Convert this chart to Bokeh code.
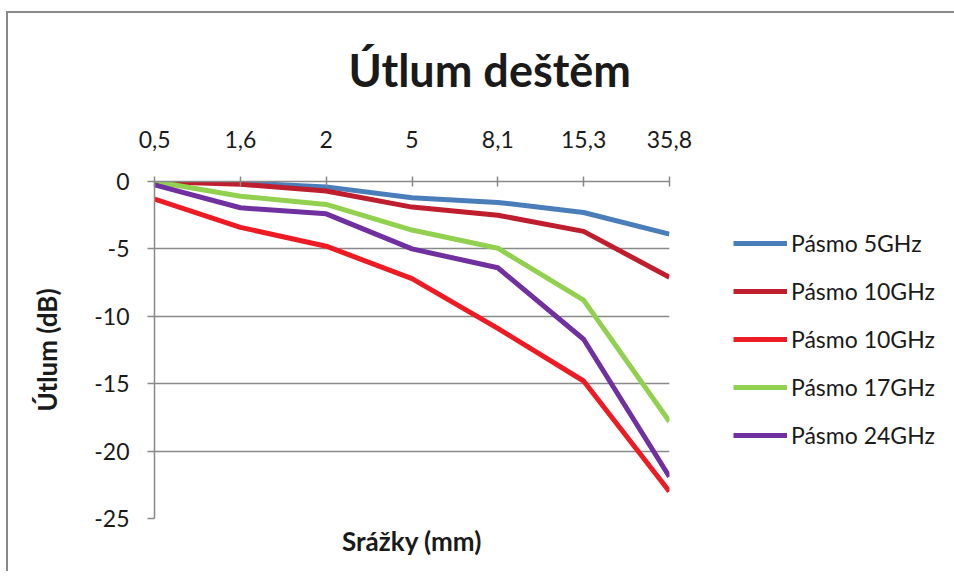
from bokeh.plotting import figure
from bokeh.models import FactorRange, Range1d, FixedTicker, Legend, LegendItem, Title
from bokeh.embed import file_html
from bokeh.resources import INLINE

# ---- data ----
categories = ["0,5", "1,6", "2", "5", "8,1", "15,3", "35,8"]
series_names = ["Pásmo 5GHz", "Pásmo 10GHz", "Pásmo 10GHz", "Pásmo 17GHz", "Pásmo 24GHz"]
band_5ghz = [0.0, -0.1, -0.4, -1.2, -1.55, -2.3, -3.9]
band_10ghz_a = [0.0, -0.2, -0.7, -1.9, -2.5, -3.7, -7.1]
band_10ghz_b = [-1.3, -3.4, -4.8, -7.2, -10.9, -14.8, -23.0]
band_17ghz = [0.0, -1.1, -1.7, -3.6, -4.95, -8.8, -17.8]
band_24ghz = [-0.25, -1.95, -2.4, -5.0, -6.4, -11.7, -21.9]
y_ticks = [-25, -20, -15, -10, -5, 0]
y_tick_labels = ["-25", "-20", "-15", "-10", "-5", "0"]
title_text = "Útlum deštěm"
x_label = "Srážky (mm)"
y_label = "Útlum (dB)"

colors = ["#4A7EBB", "#BE1E2D", "#ED1C24", "#92D050", "#7030A0"]
series = [band_5ghz, band_10ghz_a, band_10ghz_b, band_17ghz, band_24ghz]

FONT = "Lato"
GRAY = "#898989"
TXT = "#1a1a1a"

p = figure(
    x_range=FactorRange(factors=categories, range_padding=-0.499, range_padding_units="absolute"),
    y_range=Range1d(-25, 0),
    frame_width=515, frame_height=337,
    min_border_left=146, min_border_right=277, min_border_top=168, min_border_bottom=53,
    x_axis_location="above",
    output_backend="svg", toolbar_location=None,
    title=title_text,
)
p.styles = {"margin-left": "6px", "margin-top": "11px",
            "border-top": "2px solid #898989", "border-left": "2px solid #898989"}

p.outline_line_color = None
p.background_fill_color = "white"
p.border_fill_color = "white"

# title
p.title.align = "left"
p.title.offset = 194
p.title.standoff = 57
p.title.vertical_align = "top"
p.title.text_font = FONT
p.title.text_font_size = "45px"
p.title.text_font_style = "bold"
p.title.text_color = TXT

# x axis (top)
xa = p.xaxis[0]
xa.axis_line_color = GRAY
xa.axis_line_width = 1.5
xa.major_tick_line_color = GRAY
xa.major_tick_line_width = 1.5
xa.major_tick_in = 5
xa.major_tick_out = 5
xa.major_label_standoff = 29
xa.major_label_text_font = FONT
xa.major_label_text_font_size = "23px"
xa.major_label_text_color = TXT
xa.major_label_orientation = "horizontal"

# y axis
ya = p.yaxis[0]
ya.ticker = FixedTicker(ticks=y_ticks)
ya.major_label_overrides = {t: l for t, l in zip(y_ticks, y_tick_labels)}
ya.axis_line_color = GRAY
ya.axis_line_width = 1.5
ya.major_tick_line_color = GRAY
ya.major_tick_line_width = 1.5
ya.major_tick_in = 0
ya.major_tick_out = 7
ya.minor_tick_line_color = None
ya.major_label_standoff = 18
ya.major_label_text_font = FONT
ya.major_label_text_font_size = "23px"
ya.major_label_text_color = TXT
ya.axis_label = y_label
ya.axis_label_text_font = FONT
ya.axis_label_text_font_size = "26px"
ya.axis_label_text_font_style = "bold"
ya.axis_label_text_color = TXT
ya.axis_label_standoff = 28

p.xgrid.visible = False
p.ygrid.ticker = FixedTicker(ticks=y_ticks)
p.ygrid.grid_line_color = GRAY
p.ygrid.grid_line_width = 1.5

# x label below
p.add_layout(Title(text=x_label, align="center", text_font=FONT, text_font_size="26px",
                   text_font_style="bold", text_color=TXT, standoff=8), "below")

items = []
for name, vals, col in zip(series_names, series, colors):
    r = p.line(x=categories, y=vals, line_color=col, line_width=5, line_join="round")
    items.append(LegendItem(label=name, renderers=[r]))

legend = Legend(items=items, location=(64, 69), padding=0, margin=0,
                glyph_width=54, glyph_height=28, label_height=28, label_standoff=4, spacing=20,
                label_text_font=FONT, label_text_font_size="23px", label_text_color=TXT,
                border_line_alpha=0, background_fill_alpha=0)
p.add_layout(legend, "right")

open("out.html", "w").write(file_html(p, INLINE))
